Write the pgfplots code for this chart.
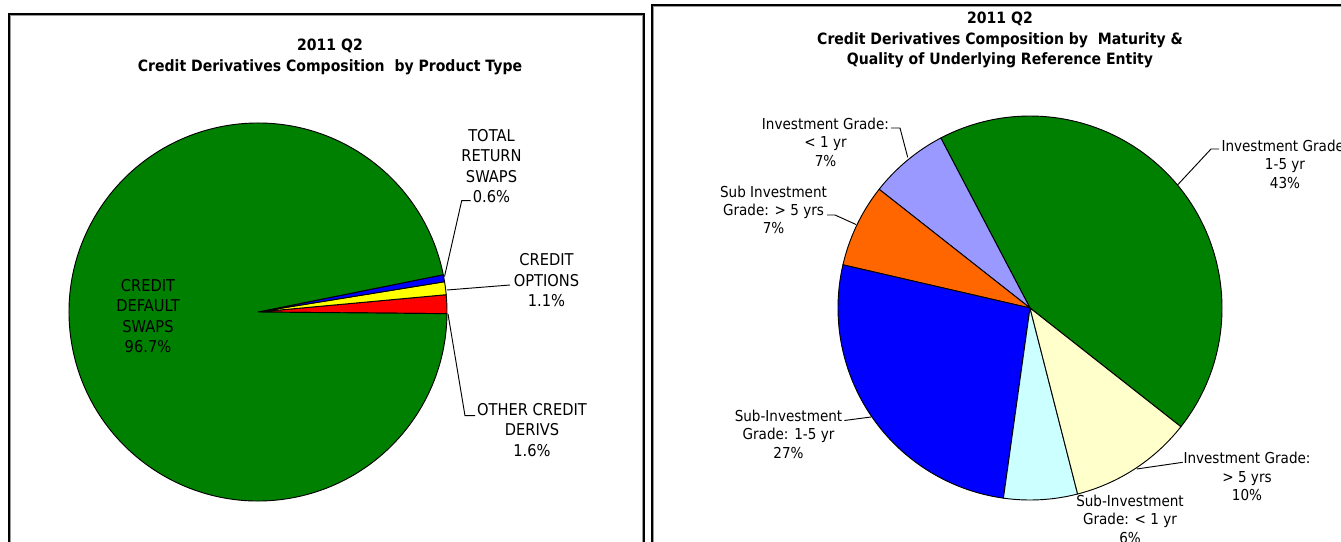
\documentclass[border=0pt]{standalone}
\usepackage{fontspec}
\setmainfont{DejaVu Sans}[FakeStretch=0.9]
\usepackage{pgfplots}
\usepackage{pgfplotstable}
\pgfplotsset{compat=1.18}

\definecolor{xgreen}{HTML}{008000}
\definecolor{xred}{HTML}{FF0000}
\definecolor{xyellow}{HTML}{FFFF00}
\definecolor{xblue}{HTML}{0000FF}
\definecolor{xlav}{HTML}{9999FF}
\definecolor{xorange}{HTML}{FF6600}
\definecolor{xcyan}{HTML}{CCFFFF}
\definecolor{xcream}{HTML}{FFFFCC}

% shares in percent, drawn counterclockwise from the start angle
\pgfplotstableread{
share colour
1.6  xred
1.1  xyellow
0.6  xblue
96.7 xgreen
}\producttype

\pgfplotstableread{
share colour
43.3 xgreen
6.7  xlav
7.0  xorange
26.4 xblue
6.2  xcyan
10.4 xcream
}\maturity

% #1 table, #2 #3 centre (px), #4 radius (px), #5 start angle
\newcommand\pie[5]{%
  \pgfplotstablegetrowsof{#1}%
  \pgfmathtruncatemacro\lastrow{\pgfplotsretval-1}%
  \xdef\angA{#5}%
  \foreach \i in {0,...,\lastrow}{%
    \pgfplotstablegetelem{\i}{share}\of{#1}\let\val\pgfplotsretval
    \pgfplotstablegetelem{\i}{colour}\of{#1}\let\col\pgfplotsretval
    \pgfmathsetmacro\angB{\angA+3.6*\val}%
    \filldraw[fill=\col, draw=black, line width=0.7pt, line join=round]
      (axis cs:#2,#3) -- +(\angA:{#4*0.75pt})
      arc[start angle=\angA, end angle=\angB, radius={#4*0.75pt}] -- cycle;
    \xdef\angA{\angB}%
  }%
}

\tikzset{
  lblL/.style={align=center, inner sep=0pt, font=\fontsize{12.2}{15.2}\selectfont},
  lblR/.style={align=center, inner sep=0pt, font=\fontsize{11.3}{13.8}\selectfont},
  ttl/.style={align=center, inner sep=0pt, font=\fontsize{11.7}{15.4}\selectfont\bfseries},
  leader/.style={draw=black, line width=0.7pt},
}

\begin{document}
\begin{tikzpicture}
\begin{axis}[at={(0,0)}, anchor=south west, scale only axis,
  width=1005.75pt, height=406.5pt,
  xmin=0, xmax=1341, ymin=0, ymax=542, y dir=reverse,
  hide axis, clip=false]

% panel frames, with a faint inner shadow line
\draw[black!40, line width=0.6pt] (axis cs:10.8,600) |- (axis cs:642.2,15.8) -- (axis cs:642.2,600);
\draw[black!40, line width=0.6pt] (axis cs:653.8,600) |- (axis cs:1400,6.8);
\draw[line width=1.2pt] (axis cs:9,600) |- (axis cs:644,14) -- (axis cs:644,600);
\draw[line width=1.2pt] (axis cs:652,600) |- (axis cs:1400,5);

\pgfplotsextra{%
  \pie{\producttype}{258}{312}{189}{-0.5}%
  \pie{\maturity}{1030}{308}{192}{-38.2}%
}

% left chart
\node[ttl] at (axis cs:330,57) {2011 Q2\\Credit Derivatives Composition\ \ by Product Type};
\node[lblL] at (axis cs:148,316) {CREDIT\\DEFAULT\\SWAPS\\96.7\%};
\node[lblL] at (axis cs:491.5,166.2) {TOTAL\\RETURN\\SWAPS\\0.6\%};
\node[lblL] at (axis cs:546.5,280.2) {CREDIT\\OPTIONS\\1.1\%};
\node[lblL] at (axis cs:532,430) {OTHER CREDIT\\DERIVS\\1.6\%};
\draw[leader] (axis cs:470.7,200.7) -- (axis cs:461.7,200.7) -- (axis cs:444.5,276.6);
\draw[leader] (axis cs:510,285) -- (axis cs:447,290);
\draw[leader] (axis cs:475,415.7) -- (axis cs:465,415.7) -- (axis cs:448,314);

% right chart
\node[ttl] at (axis cs:1000,40) {2011 Q2\\Credit Derivatives Composition by\ \ Maturity \&\\Quality of Underlying Reference Entity};
\node[lblR] at (axis cs:825.5,142.3) {Investment Grade:\\< 1 yr\\7\%};
\node[lblR] at (axis cs:773.5,209.8) {Sub Investment\\Grade: > 5 yrs\\7\%};
\node[lblR] at (axis cs:788.5,434) {Sub-Investment\\Grade: 1-5 yr\\27\%};
\node[lblR] at (axis cs:1130,519) {Sub-Investment\\Grade: < 1 yr\\6\%};
\node[lblR] at (axis cs:1247,476.4) {Investment Grade:\\> 5 yrs\\10\%};
\node[lblR] at (axis cs:1285,164.2) {Investment Grade:\\1-5 yr\\43\%};
\draw[leader] (axis cs:891,128) -- (axis cs:900,128) -- (axis cs:907.7,157.3);
\draw[leader] (axis cs:827,215) -- (axis cs:835,215) -- (axis cs:856,224.5);
\draw[leader] (axis cs:844.3,420.5) -- (axis cs:871,417);
\draw[leader] (axis cs:1182.7,462.3) -- (axis cs:1136.7,469);
\draw[leader] (axis cs:1219,149) -- (axis cs:1211,149) -- (axis cs:1177.5,185);
\end{axis}
\pgfresetboundingbox
\path[use as bounding box] (0,0) rectangle (1005.75pt,406.5pt);
\end{tikzpicture}
\end{document}
